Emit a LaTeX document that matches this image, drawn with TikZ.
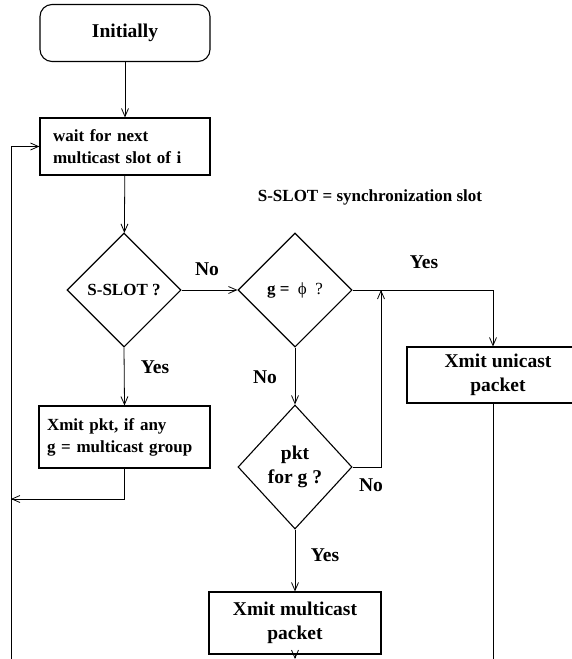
\documentclass[tikz,border=0pt]{standalone}
\usepackage{fontspec}
\setmainfont{Liberation Serif}
\usetikzlibrary{shapes.geometric, arrows.meta}

\newcommand{\smallfnt}{\fontsize{17}{22}\selectfont\bfseries}
\newcommand{\bigfnt}{\fontsize{19.5}{24}\selectfont\bfseries}

\begin{document}
\begin{tikzpicture}[x=1pt, y=-1pt, line width=0.8pt,
		>={Straight Barb[length=8pt, width=7pt]},
		box/.style={draw, line width=1.1pt, inner sep=0pt, align=center},
		decision/.style={draw, diamond, aspect=1, line width=1.1pt, inner sep=0pt, align=center},
		lbl/.style={font=\bigfnt}]
		\clip (0, 0) rectangle (572, 659);
		
		\node[box, rounded corners=12pt, minimum width=170pt, minimum height=57pt, font=\bigfnt] (init) at (125, 33) {Initially};
		\node[box, align=left, inner xsep=13pt, text width=144pt, minimum height=57pt, font=\smallfnt] (wait) at (125, 146.5) {wait for next\\multicast slot of i};
		\node[font=\smallfnt] (legend) at (370, 197) {S-SLOT = synchronization slot};
		
		\node[decision, minimum width=114pt, minimum height=114pt, font=\smallfnt] (sslot) at (124, 290) {S-SLOT ?};
		\node[decision, minimum width=114pt, minimum height=114pt, font=\smallfnt] (gempty) at (295, 290) {g =\ \ {\mdseries ϕ}\ \ {\mdseries ?}};
		\node[decision, minimum width=114pt, minimum height=124pt, font=\bigfnt] (pktg) at (295, 467) {pkt\\for g ?};
		
		\node[box, minimum width=182pt, minimum height=56pt, font=\bigfnt] (ucast) at (498, 375) {Xmit unicast\\packet};
		\node[box, align=left, inner xsep=8pt, text width=155pt, minimum height=62pt, font=\smallfnt] (xpkt) at (124.5, 437) {Xmit pkt, if any\\g = multicast group};
		\node[box, minimum width=172pt, minimum height=62pt, font=\bigfnt] (mcast) at (295, 623) {Xmit multicast\\packet};
		
		\coordinate (loopbot) at (11, 659);
		\coordinate (loopin) at (11, 499);
		\coordinate (join) at (381, 290);
		\coordinate (mcastout) at (295, 659);
		\coordinate (ucastout) at (493, 659);
		
		\draw[->] (init) -- (wait);
		\draw[->] (loopbot) |- (wait.west);
		\draw[->] (wait) -- (sslot);
		\draw[->] (sslot.east) -- (gempty.west);
		\draw[->] (gempty.east) -| ([xshift=-5pt]ucast.north);
		\draw[->] (gempty.south) -- (pktg.north);
		\draw[->] (pktg.east) -| (join);
		\draw[->] (pktg.south) -- (mcast.north);
		\draw[->] (mcast.south) -- (mcastout);
		\draw ([xshift=-5pt]ucast.south) -- (ucastout);
		\draw[->] (sslot.south) -- (xpkt.north);
		\draw[->] (xpkt.south) |- (loopin);
		
		\node[lbl] (no1) at (207, 269) {No};
		\node[lbl] (yes1) at (424, 262) {Yes};
		\node[lbl] (no2) at (265, 377) {No};
		\node[lbl] (no3) at (371, 485) {No};
		\node[lbl] (yes2) at (325, 555) {Yes};
		\node[lbl] (yes3) at (155, 367) {Yes};
	\end{tikzpicture}
\end{document}
